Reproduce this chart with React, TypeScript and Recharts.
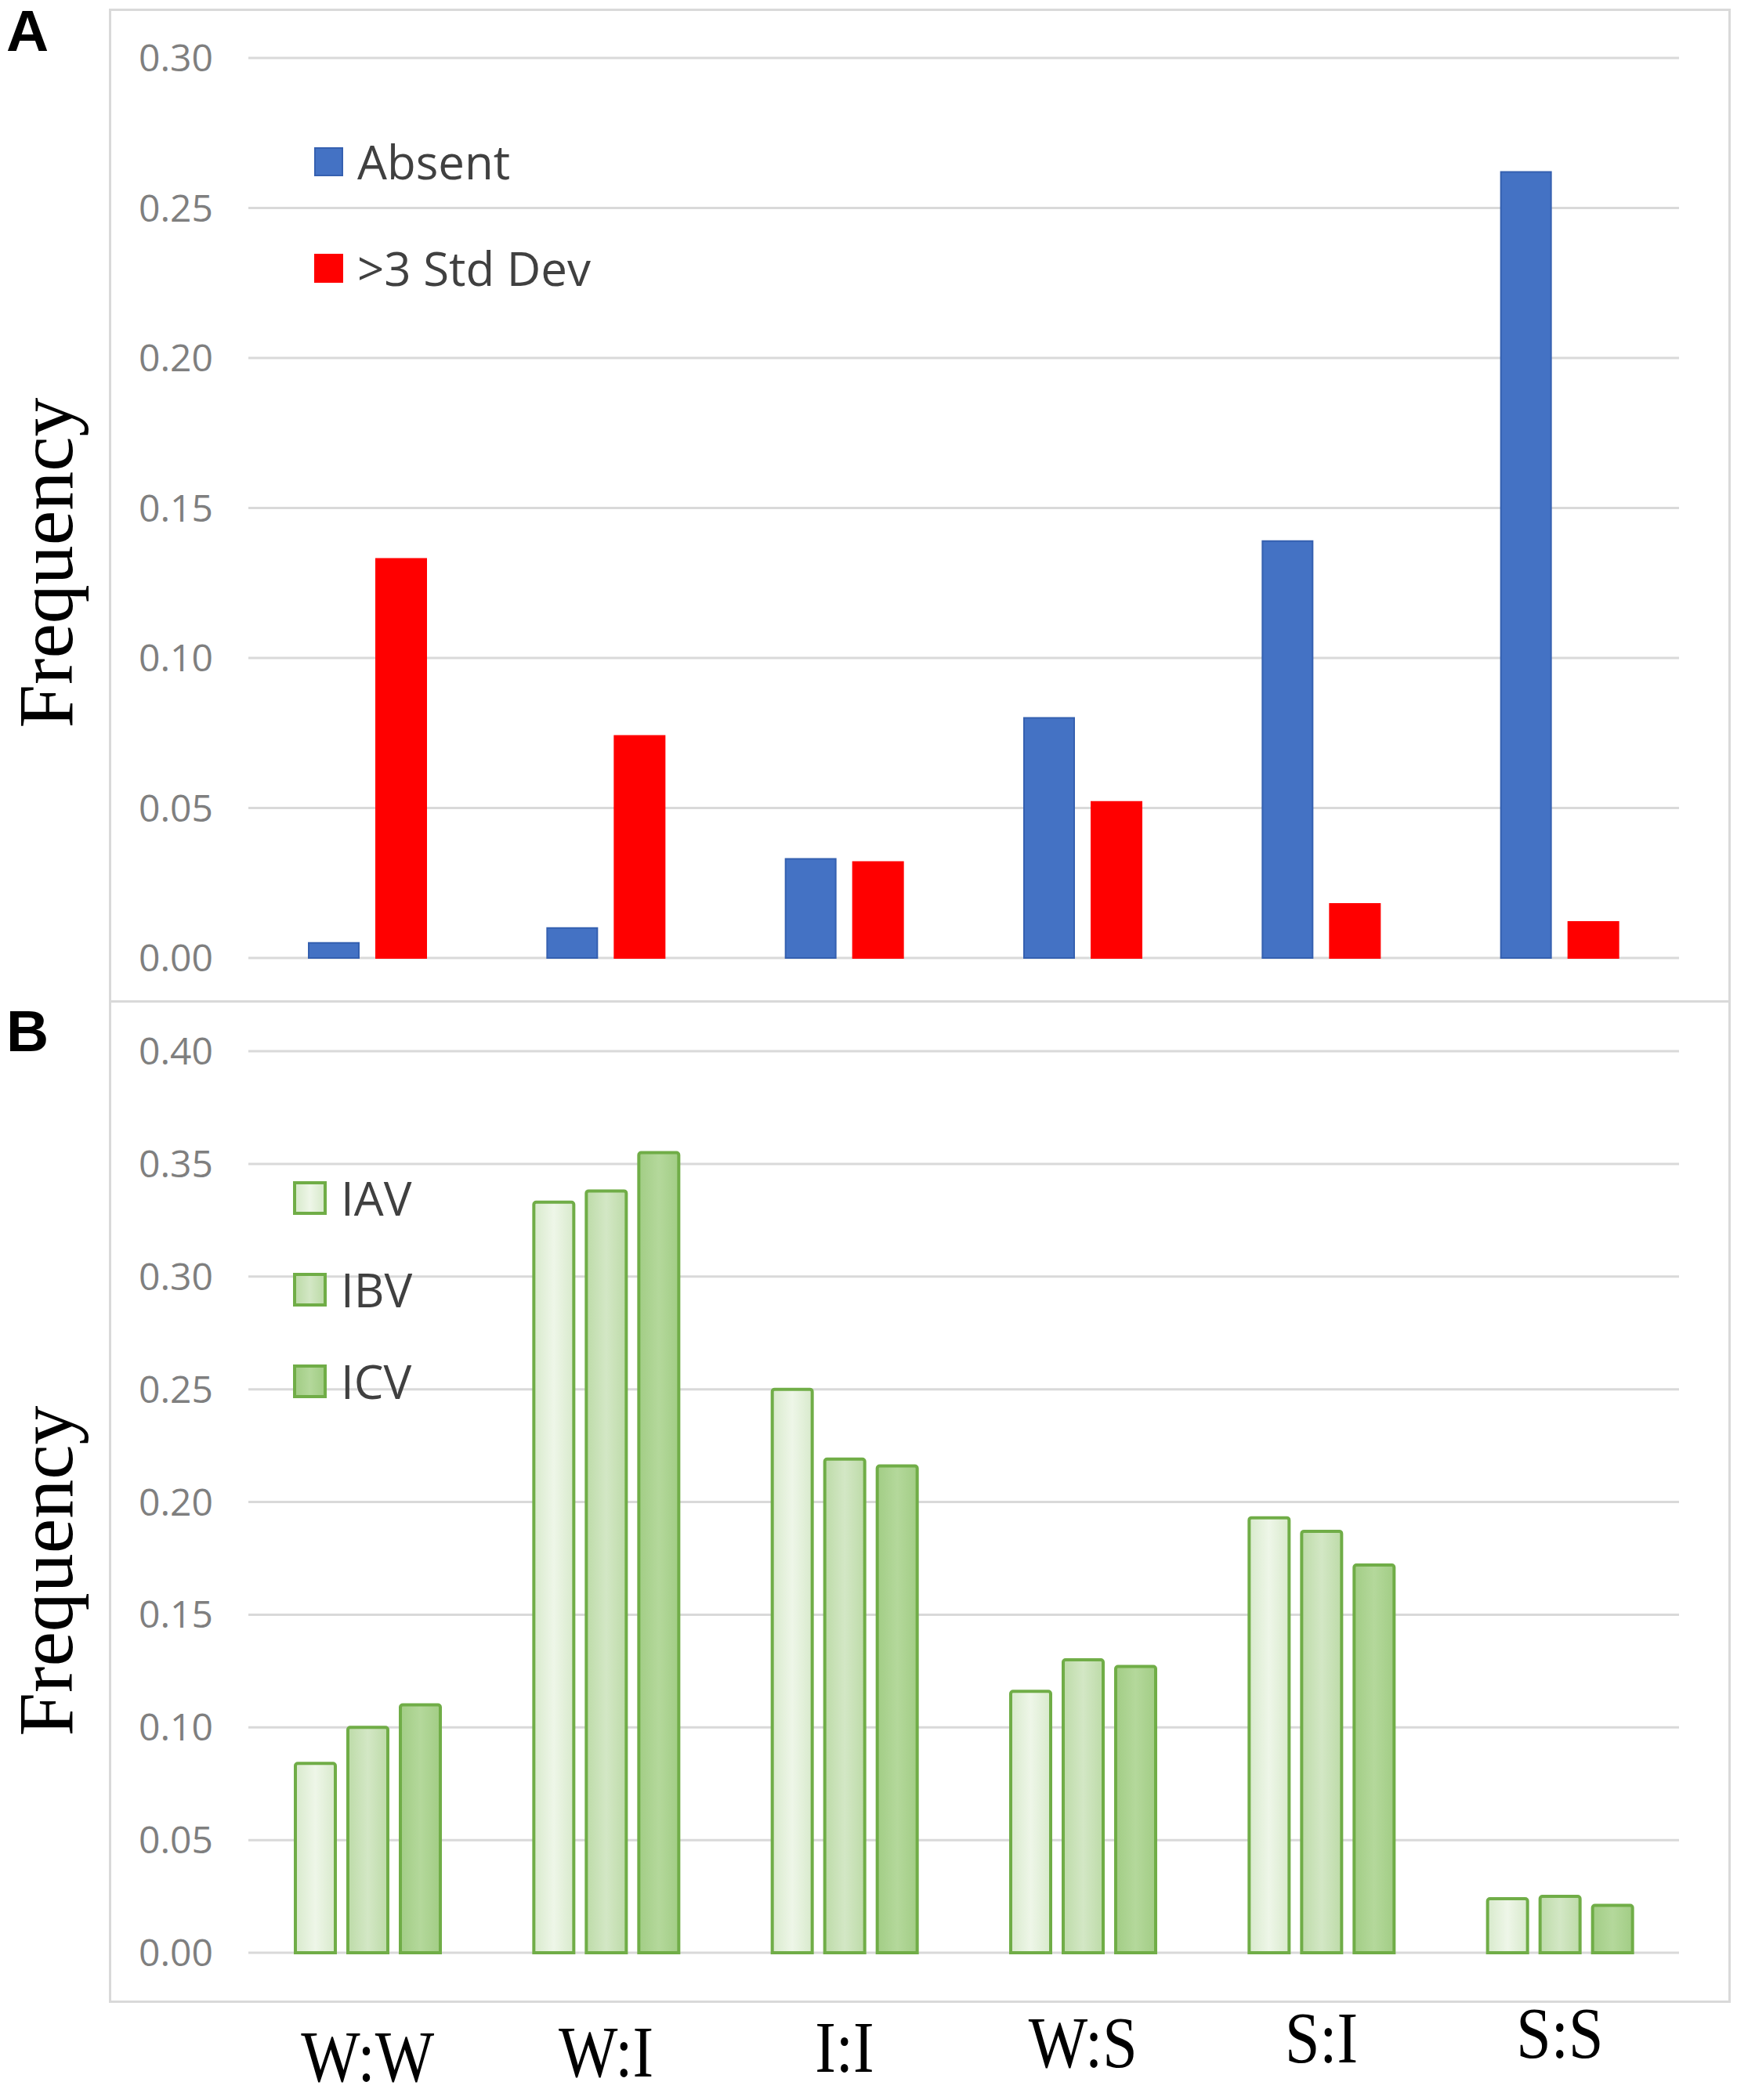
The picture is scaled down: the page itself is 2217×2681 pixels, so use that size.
import React from "react";
import { BarChart, Bar, XAxis, YAxis, CartesianGrid, Legend } from "recharts";

// pair categories along the x axis (shared by both panels)
const CATEGORIES = ["W:W", "W:I", "I:I", "W:S", "S:I", "S:S"];

// panel A
const SERIES_A = ["Absent", ">3 Std Dev"];
const ABSENT = [0.005, 0.010, 0.033, 0.080, 0.139, 0.262];
const STD_DEV = [0.133, 0.074, 0.032, 0.052, 0.018, 0.012];
const TICKS_A = [0, 0.05, 0.1, 0.15, 0.2, 0.25, 0.3];

// panel B
const SERIES_B = ["IAV", "IBV", "ICV"];
const IAV = [0.084, 0.333, 0.250, 0.116, 0.193, 0.024];
const IBV = [0.100, 0.338, 0.219, 0.130, 0.187, 0.025];
const ICV = [0.110, 0.355, 0.216, 0.127, 0.172, 0.021];
const TICKS_B = [0, 0.05, 0.1, 0.15, 0.2, 0.25, 0.3, 0.35, 0.4];

const dataA = CATEGORIES.map((cat, i) => ({ cat, absent: ABSENT[i], std: STD_DEV[i] }));
const dataB = CATEGORIES.map((cat, i) => ({ cat, iav: IAV[i], ibv: IBV[i], icv: ICV[i] }));

const SANS = "'Open Sans', 'Noto Sans', sans-serif";
const SERIF = "'Liberation Serif', 'DejaVu Serif', serif";
const GRID = "#d9d9d9";
const GREEN = "#70AD47";

const LEGEND_SWATCH: Record<string, React.CSSProperties> = {
  Absent: { background: "#4472C4", border: "2px solid #3560B0" },
  ">3 Std Dev": { background: "#FF0000" },
  IAV: { background: "linear-gradient(90deg,#d8eacc,#eef6e8,#d8eacc)", border: `4px solid ${GREEN}` },
  IBV: { background: "linear-gradient(90deg,#bddba8,#d3e7c5,#bddba8)", border: `4px solid ${GREEN}` },
  ICV: { background: "linear-gradient(90deg,#a2cd85,#b4d89b,#a2cd85)", border: `4px solid ${GREEN}` },
};

// legend keeps the series order, not the alphabetical one
const makeLegend = (order: string[], size: number, rowGap: number) => (props: any) => {
  const items = [...(props.payload || [])].sort(
    (a: any, b: any) => order.indexOf(a.value) - order.indexOf(b.value)
  );
  return (
    <div style={{ fontFamily: SANS, color: "#404040" }}>
      {items.map((entry: any) => (
        <div
          key={entry.value}
          style={{ display: "flex", alignItems: "center", height: 60, marginBottom: rowGap }}
        >
          <div style={{ width: size, height: size, boxSizing: "border-box", ...LEGEND_SWATCH[entry.value] }} />
          <span style={{ fontSize: 60, marginLeft: 18, lineHeight: "60px" }}>{entry.value}</span>
        </div>
      ))}
    </div>
  );
};

const yTick = { fontSize: 48, fill: "#7f7f7f", fontFamily: SANS };

const freqLabel = (shift: number) => (props: any) => {
  const vb = props.viewBox;
  const cy = vb.y + vb.height / 2 + shift;
  return (
    <text
      transform={`translate(92, ${cy}) rotate(-90)`}
      textAnchor="middle"
      fontFamily={SERIF}
      fontSize={100}
      fill="#000"
    >
      Frequency
    </text>
  );
};

// serif category labels, slightly condensed and stepping up to the right
const CategoryTick = (props: any) => {
  const { x, y, payload, index } = props;
  return (
    <g transform={`translate(${x}, ${y + 156 - index * 6})`}>
      <text transform="scale(0.85,1)" textAnchor="middle" fontFamily={SERIF} fontSize={94} fill="#000">
        {payload.value}
      </text>
    </g>
  );
};

const boxStyle: React.CSSProperties = {
  position: "absolute",
  left: 139,
  width: 2070,
  border: `3px solid ${GRID}`,
  boxSizing: "border-box",
};

const letterStyle: React.CSSProperties = {
  position: "absolute",
  left: 8,
  fontFamily: "'Liberation Sans', Arial, sans-serif",
  fontWeight: "bold",
  fontSize: 75,
  lineHeight: "75px",
};

export default function App() {
  return (
    <div style={{ position: "absolute", left: 0, top: 0, width: 2217, height: 2681, background: "#fff" }}>
      <div style={{ ...boxStyle, top: 11, height: 1269 }} />
      <div style={{ ...boxStyle, top: 1277, height: 1280 }} />
      <div style={{ ...letterStyle, top: 2 }}>A</div>
      <div style={{ ...letterStyle, top: 1279 }}>B</div>

      {/* Panel A */}
      <div style={{ position: "absolute", left: 0, top: 0 }}>
        <BarChart
          width={2217}
          height={1278}
          data={dataA}
          margin={{ top: 74, right: 74, bottom: 55, left: 0 }}
          barGap={22}
        >
          <CartesianGrid vertical={false} stroke={GRID} strokeWidth={3} />
          <XAxis dataKey="cat" hide />
          <YAxis
            width={317}
            domain={[0, 0.3]}
            ticks={TICKS_A}
            tickFormatter={(v: number) => v.toFixed(2)}
            axisLine={false}
            tickLine={false}
            tickSize={43}
            tick={yTick}
            label={{ content: freqLabel(70) }}
          />
          <Legend
            layout="vertical"
            align="center"
            verticalAlign="middle"
            content={makeLegend(SERIES_A, 37, 76)}
            wrapperStyle={{ left: 401, top: 176, width: 600, height: 300 }}
          />
          <Bar dataKey="absent" name={SERIES_A[0]} fill="#4472C4" stroke="#3560B0" strokeWidth={2} barSize={64} isAnimationActive={false} />
          <Bar dataKey="std" name={SERIES_A[1]} fill="#FF0000" stroke="#FF0000" strokeWidth={2} barSize={64} isAnimationActive={false} />
        </BarChart>
      </div>

      {/* Panel B */}
      <div style={{ position: "absolute", left: 0, top: 1278 }}>
        <BarChart
          width={2217}
          height={1403}
          data={dataB}
          margin={{ top: 64, right: 74, bottom: 0, left: 0 }}
          barGap={16}
        >
          <defs>
            <linearGradient id="gIAV" x1="0" y1="0" x2="1" y2="0">
              <stop offset="0%" stopColor="#d8eacc" />
              <stop offset="50%" stopColor="#eef6e8" />
              <stop offset="100%" stopColor="#d8eacc" />
            </linearGradient>
            <linearGradient id="gIBV" x1="0" y1="0" x2="1" y2="0">
              <stop offset="0%" stopColor="#bddba8" />
              <stop offset="50%" stopColor="#d3e7c5" />
              <stop offset="100%" stopColor="#bddba8" />
            </linearGradient>
            <linearGradient id="gICV" x1="0" y1="0" x2="1" y2="0">
              <stop offset="0%" stopColor="#a2cd85" />
              <stop offset="50%" stopColor="#b4d89b" />
              <stop offset="100%" stopColor="#a2cd85" />
            </linearGradient>
          </defs>
          <CartesianGrid vertical={false} stroke={GRID} strokeWidth={3} />
          <XAxis
            dataKey="cat"
            height={188}
            axisLine={false}
            tickLine={false}
            interval={0}
            tick={<CategoryTick />}
          />
          <YAxis
            width={317}
            domain={[0, 0.4]}
            ticks={TICKS_B}
            tickFormatter={(v: number) => v.toFixed(2)}
            axisLine={false}
            tickLine={false}
            tickSize={43}
            tick={yTick}
            label={{ content: freqLabel(88) }}
          />
          <Legend
            layout="vertical"
            align="center"
            verticalAlign="middle"
            content={makeLegend(SERIES_B, 43, 57)}
            wrapperStyle={{ left: 374, top: 221, width: 400, height: 360 }}
          />
          <Bar dataKey="iav" name={SERIES_B[0]} fill="url(#gIAV)" stroke={GREEN} strokeWidth={4} barSize={51} radius={[3, 3, 0, 0]} isAnimationActive={false} />
          <Bar dataKey="ibv" name={SERIES_B[1]} fill="url(#gIBV)" stroke={GREEN} strokeWidth={4} barSize={51} radius={[3, 3, 0, 0]} isAnimationActive={false} />
          <Bar dataKey="icv" name={SERIES_B[2]} fill="url(#gICV)" stroke={GREEN} strokeWidth={4} barSize={51} radius={[3, 3, 0, 0]} isAnimationActive={false} />
        </BarChart>
      </div>
    </div>
  );
}
